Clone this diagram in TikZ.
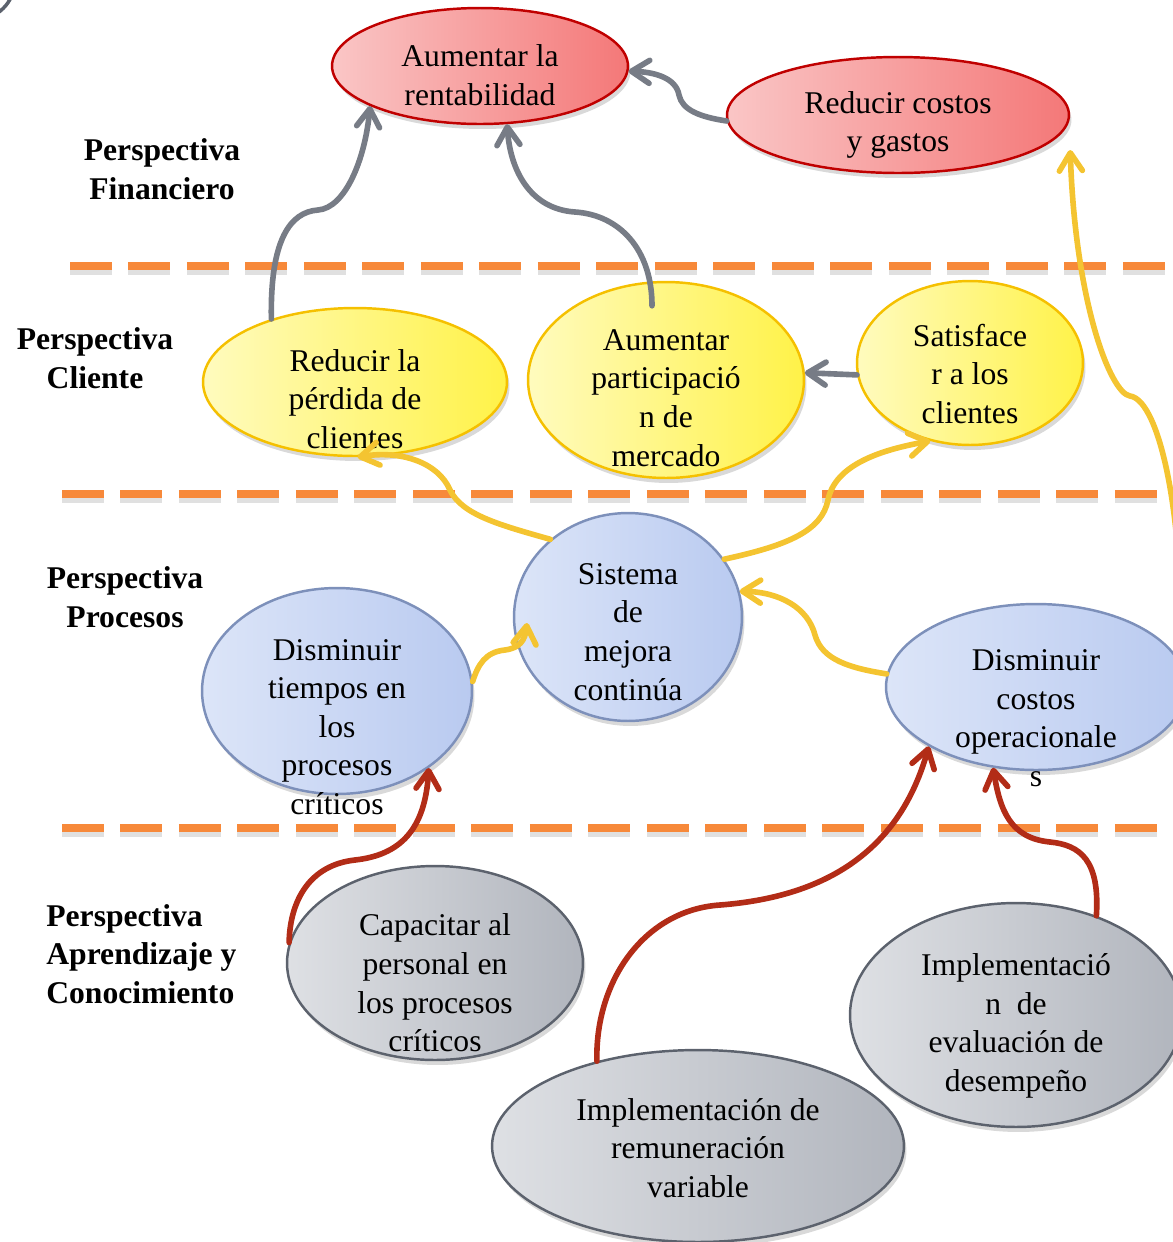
\documentclass[tikz,border=0pt]{standalone}
\usepackage{fontspec}
\setmainfont{Liberation Serif}
\usetikzlibrary{arrows.meta,shapes.geometric,shadows}

\definecolor{rojoA}{HTML}{FAC6C6}
\definecolor{rojoB}{HTML}{F47878}
\definecolor{rojoBorde}{HTML}{C00000}
\definecolor{amarA}{HTML}{FFFBBE}
\definecolor{amarB}{HTML}{FFF248}
\definecolor{amarBorde}{HTML}{F5C000}
\definecolor{azulA}{HTML}{DCE5F8}
\definecolor{azulB}{HTML}{B9CAF0}
\definecolor{azulBorde}{HTML}{7D90BA}
\definecolor{grisA}{HTML}{DEE0E4}
\definecolor{grisB}{HTML}{B1B5BD}
\definecolor{grisBorde}{HTML}{5C626D}
\definecolor{grisflecha}{HTML}{777C86}
\definecolor{amarflecha}{HTML}{F4C431}
\definecolor{rojoflecha}{HTML}{B22C17}
\definecolor{naranja}{HTML}{F7893A}

\begin{document}
\begin{tikzpicture}[x=0.02cm, y=-0.02cm,
    elip/.style={ellipse, inner sep=0, line width=1.4pt,
      drop shadow={opacity=0.3, shadow xshift=0.05cm, shadow yshift=-0.1cm}},
    rojo/.style={elip, draw=rojoBorde, left color=rojoA, right color=rojoB},
    amarillo/.style={elip, draw=amarBorde, left color=amarA, right color=amarB},
    azul/.style={elip, draw=azulBorde, left color=azulA, right color=azulB},
    gris/.style={elip, draw=grisBorde, left color=grisA, right color=grisB},
    txt/.style={align=center, inner sep=0, font=\fontsize{18}{22}\selectfont},
    persp/.style={align=center, inner sep=0, font=\fontsize{18}{22}\selectfont\bfseries},
    flecha/.style={line width=3.2pt, line cap=round,
      -{Straight Barb[length=0.36cm, width=0.46cm, round]}},
    fgris/.style={flecha, draw=grisflecha},
    famar/.style={flecha, draw=amarflecha},
    frojo/.style={flecha, draw=rojoflecha},
    sep/.style={line width=0.15cm, draw=naranja, dash pattern=on 0.84cm off 0.33cm}]

  \useasboundingbox (0,0) rectangle (1173,1242);
  \clip (0,0) rectangle (1173,1242);

  % trozo de figura en la esquina
  \draw[line width=2pt, draw=grisBorde] (-25,-20) circle (40);

  % separadores
  \foreach \y/\a/\b in {266/70/1173, 494/62/1160, 828/62/1160} {
    \draw[sep, draw=black, opacity=0.12] (\a,\y+5) -- (\b,\y+5);
    \draw[sep] (\a,\y) -- (\b,\y);
  }

  % perspectivas
  \node[persp] (pfin) at (162,169) {Perspectiva\\Financiero};
  \node[persp] (pcli) at (95,358) {Perspectiva\\Cliente};
  \node[persp] (ppro) at (125,597) {Perspectiva\\Procesos};
  \node[persp, align=left, anchor=west] (papr) at (46,954) {Perspectiva\\Aprendizaje y\\Conocimiento};

  % financiero
  \node[rojo, minimum width=5.92cm, minimum height=2.32cm] (rent) at (480,66) {};
  \node[rojo, minimum width=6.84cm, minimum height=2.32cm] (costos) at (898,115) {};
  \node[txt] (rentT) at (480,75) {Aumentar la\\rentabilidad};
  \node[txt] (costosT) at (898,125) {Reducir costos\\y gastos};

  % cliente
  \node[amarillo, minimum width=6.08cm, minimum height=2.96cm] (perd) at (355,382) {};
  \node[amarillo, minimum width=5.52cm, minimum height=3.92cm] (part) at (666,380) {};
  \node[amarillo, minimum width=4.52cm, minimum height=3.28cm] (sat) at (970,363) {};
  \node[txt] (perdT) at (355,399) {Reducir la\\pérdida de\\clientes};
  \node[txt] (partT) at (666,398) {Aumentar\\participació\\n de\\mercado};
  \node[txt] (satT) at (970,374) {Satisface\\r a los\\clientes};

  % procesos
  \node[azul, minimum width=4.56cm, minimum height=4.16cm] (sis) at (628,617) {};
  \node[azul, minimum width=5.40cm, minimum height=4.12cm] (tie) at (337,691) {};
  \node[azul, minimum width=6.00cm, minimum height=3.32cm] (dco) at (1036,687) {};
  \node[txt] (sisT) at (628,632) {Sistema\\de\\mejora\\continúa};
  \node[txt] (tieT) at (337,727) {Disminuir\\tiempos en\\los\\procesos\\críticos};
  \node[txt] (dcoT) at (1036,718) {Disminuir\\costos\\operacionale\\s};

  % aprendizaje
  \node[gris, minimum width=5.92cm, minimum height=3.88cm] (cap) at (435,963) {};
  \node[gris, minimum width=6.64cm, minimum height=4.48cm] (eva) at (1016,1015) {};
  \node[gris, minimum width=8.24cm, minimum height=3.84cm] (rem) at (698,1146) {};
  \node[txt] (capT) at (435,983) {Capacitar al\\personal en\\los procesos\\críticos};
  \node[txt] (evaT) at (1016,1026) {Implementació\\n\ \ de\\evaluación de\\desempeño};
  \node[txt] (remT) at (698,1148) {Implementación de\\remuneración\\variable};

  % flechas grises
  \draw[fgris] (perd.143) .. controls (270,240) and (290,212) .. (318,210)
    .. controls (345,208) and (365,160) .. (rent.200);
  \draw[fgris] ([xshift=-0.28cm, yshift=-0.5cm]part.north) .. controls (652,250) and (620,215) .. (575,212)
    .. controls (530,209) and (510,170) .. (rent.295);
  \draw[fgris] (costos.182) .. controls (700,117) and (682,110) .. (679,95)
    .. controls (676,78) and (655,72) .. (rent.358);
  \draw[fgris] (sat.186) -- (part.3);

  % flechas amarillas
  \draw[famar] (sis.135) .. controls (500,525) and (462,515) .. (450,490)
    .. controls (438,462) and (400,450) .. (perd.272);
  \draw[famar] (sis.31) .. controls (790,545) and (822,530) .. (828,500)
    .. controls (835,465) and (880,450) .. (sat.243);
  \draw[famar] (tie.4) .. controls (478,665) and (485,652) .. (505,650)
    .. controls (520,648) and (525,640) .. ([xshift=0.28cm]sis.183);
  \draw[famar] (dco.175) .. controls (850,668) and (822,660) .. (815,635)
    .. controls (808,608) and (780,592) .. (sis.13);
  \draw[famar] (dco.10) .. controls (1185,520) and (1160,400) .. (1130,396)
    .. controls (1110,393) and (1075,300) .. ([yshift=-0.7cm]costos.east);

  % flechas rojas
  \draw[frojo] (cap.172) .. controls (290,900) and (310,865) .. (355,860)
    .. controls (400,855) and (425,830) .. (tie.320);
  \draw[frojo] (rem.140) .. controls (595,980) and (645,910) .. (720,905)
    .. controls (850,895) and (905,830) .. (dco.209);
  \draw[frojo] (eva.51) .. controls (1100,860) and (1080,845) .. (1050,842)
    .. controls (1010,838) and (1000,810) .. (dco.242);
\end{tikzpicture}
\end{document}
